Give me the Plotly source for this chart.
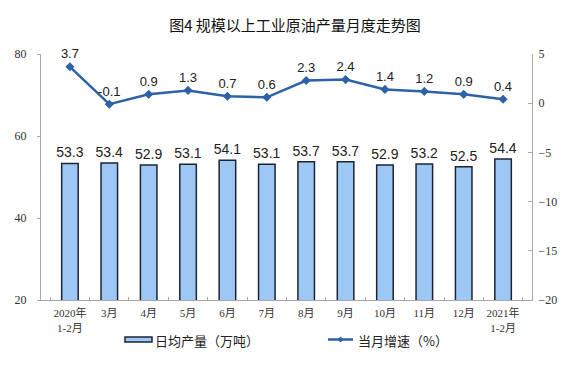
import plotly.graph_objects as go

categories = ["2020年<br>1-2月", "3月", "4月", "5月", "6月", "7月", "8月", "9月", "10月", "11月", "12月", "2021年<br>1-2月"]
daily_output = [53.3, 53.4, 52.9, 53.1, 54.1, 53.1, 53.7, 53.7, 52.9, 53.2, 52.5, 54.4]
growth = [3.7, -0.1, 0.9, 1.3, 0.7, 0.6, 2.3, 2.4, 1.4, 1.2, 0.9, 0.4]
bar_name = "日均产量（万吨）"
line_name = "当月增速（%）"

cjk = "Noto Sans CJK SC"
serif = "Liberation Serif, " + cjk
sans = "Liberation Sans, Arial, " + cjk
bar_color = "#9DC8F5"
bar_edge = "#1c2433"
line_color = "#2E62A8"

fig = go.Figure()
fig.add_trace(go.Bar(
    x=categories, y=daily_output, name=bar_name,
    marker=dict(color=bar_color, line=dict(color=bar_edge, width=1.5)),
    width=0.42,
    text=[f"{v:.1f}" for v in daily_output], textposition="outside",
    constraintext="none",
    textfont=dict(family=sans, size=14, color="#222"),
    cliponaxis=False,
    yaxis="y",
))
fig.add_trace(go.Scatter(
    x=categories, y=growth, name=line_name, mode="lines+markers+text",
    line=dict(color=line_color, width=2.5),
    marker=dict(symbol="diamond", size=7, color=line_color),
    text=[f"{v:.1f}" for v in growth], textposition="top center",
    textfont=dict(family=sans, size=13, color="#222"),
    cliponaxis=False,
    yaxis="y2",
))

# manual legend (paper coordinates; plot area spans page x 41..532, y 54..300)
W = 491.0
H = 246.0
def px(x):
    return (x - 41) / W
def py(y):
    return (300 - y) / H

shapes = [
    dict(type="rect", xref="paper", yref="paper", x0=px(125), x1=px(152), y0=py(342), y1=py(337),
         fillcolor=bar_color, line=dict(color=bar_edge, width=1.5)),
    dict(type="line", xref="paper", yref="paper", x0=px(328), x1=px(353), y0=py(339.5), y1=py(339.5),
         line=dict(color=line_color, width=2.5)),
    dict(type="path", xref="paper", yref="paper",
         path=f"M {px(337.5)} {py(339.5)} L {px(340.5)} {py(336.5)} L {px(343.5)} {py(339.5)} L {px(340.5)} {py(342.5)} Z",
         fillcolor=line_color, line=dict(color=line_color, width=0)),
]
annotations = [
    dict(text=bar_name, xref="paper", yref="paper", x=px(153), y=py(340), xanchor="left", yanchor="middle",
         showarrow=False, font=dict(family=cjk, size=13, color="#222")),
    dict(text=line_name, xref="paper", yref="paper", x=px(356), y=py(340), xanchor="left", yanchor="middle",
         showarrow=False, font=dict(family=cjk, size=13, color="#222")),
]

# the page body adds an 8px offset, so the figure is shrunk by 8px and left/top margins reduced
fig.update_layout(
    width=568, height=370,
    margin=dict(l=33, r=44, t=46, b=78, autoexpand=False),
    paper_bgcolor="white", plot_bgcolor="white",
    title=dict(text="图4 规模以上工业原油产量月度走势图", x=(295 - 8) / 568, xanchor="center",
               y=1 - (26 - 8) / 370, yanchor="middle",
               font=dict(family=cjk, size=15, color="#111")),
    showlegend=False,
    shapes=shapes,
    annotations=annotations,
    xaxis=dict(showline=True, linecolor="#aaaaaa", linewidth=1, ticks="inside", ticklen=3,
               tickcolor="#aaaaaa", tickson="boundaries", tickangle=0, automargin=False,
               ticklabelstandoff=3,
               tickfont=dict(family=serif, size=11, color="#333"), showgrid=False),
    yaxis=dict(range=[20, 80], dtick=20, showline=True, linecolor="#aaaaaa", linewidth=1,
               ticks="outside", ticklen=3, tickcolor="#aaaaaa", showgrid=False, zeroline=False,
               automargin=False, ticklabelstandoff=8,
               tickfont=dict(family=serif, size=12, color="#333")),
    yaxis2=dict(range=[-20, 5], dtick=5, overlaying="y", side="right", showline=True,
                linecolor="#aaaaaa", linewidth=1, ticks="inside", ticklen=4, tickcolor="#aaaaaa",
                showgrid=False, zeroline=False, automargin=False, ticklabelstandoff=3,
                tickfont=dict(family=serif, size=12, color="#333")),
)

fig.write_html("out.html")
